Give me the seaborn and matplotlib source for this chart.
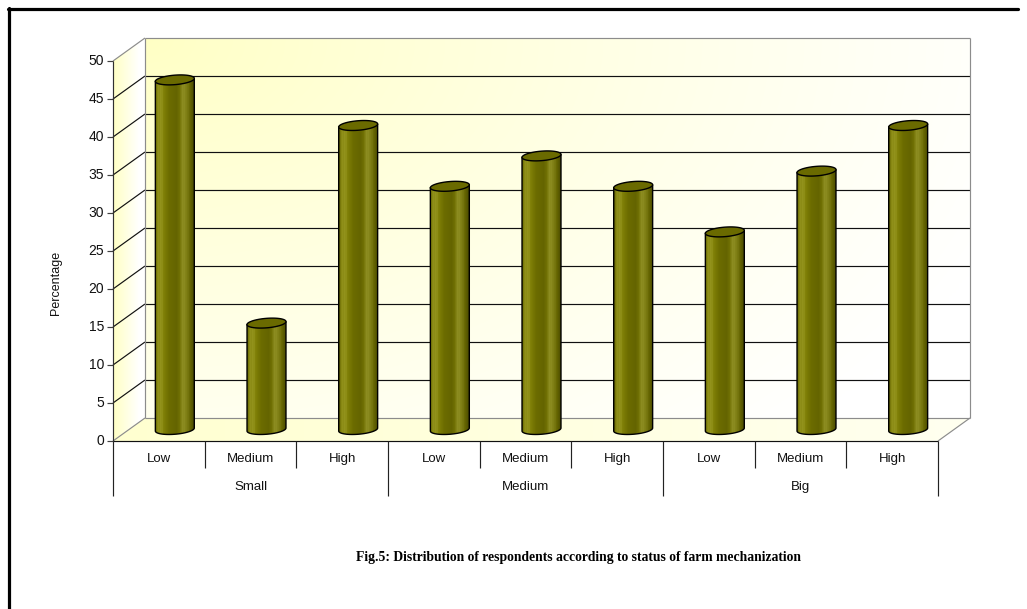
import numpy as np
import pandas as pd
import matplotlib
matplotlib.use("Agg")
import matplotlib.pyplot as plt
import seaborn as sns
from matplotlib.patches import Polygon, PathPatch
from matplotlib.path import Path
from matplotlib.lines import Line2D
from matplotlib.colors import to_rgb

# ---- data -------------------------------------------------------------
farm_sizes = ["Small", "Medium", "Big"]
mechanization = ["Low", "Medium", "High"]
small_pct = [46, 14, 40]
medium_pct = [32, 36, 32]
big_pct = [26, 34, 40]
y_ticks = [0, 5, 10, 15, 20, 25, 30, 35, 40, 45, 50]
y_label = "Percentage"
caption = "Fig.5: Distribution of respondents according to status of farm mechanization"

df = pd.DataFrame({
    "farm": np.repeat(farm_sizes, len(mechanization)),
    "level": mechanization * len(farm_sizes),
    "pct": small_pct + medium_pct + big_pct,
})
df["slot"] = np.arange(len(df))
n = len(df)

# ---- figure / pseudo-3D geometry ---------------------------------------
W, H = 1027, 609
sns.set_style("white")
plt.rcParams["font.family"] = ["Liberation Sans", "DejaVu Sans"]

fig = plt.figure(figsize=(W / 100, H / 100), dpi=100)
left_px, right_px, top_px, bottom_px = 113, 970, 38, 441
ax = fig.add_axes([left_px / W, 1 - bottom_px / H,
                   (right_px - left_px) / W, (bottom_px - top_px) / H])

ymax = 50
# half depth of the box (data units): bars sit in the middle plane
ddx = 16 / 91.7
ddy = 11.5 / 7.6
px_x = (right_px - left_px) / (n + 2 * ddx)   # pixels per category
px_y = (bottom_px - top_px) / (ymax + 2 * ddy)  # pixels per unit


def front(c, v):
    return (c - ddx, v - ddy)


def back(c, v):
    return (c + ddx, v + ddy)


c0, c1 = -0.5, n - 0.5
YELLOW = np.array(to_rgb("#ffffc4"))
WHITE = np.array([1.0, 1.0, 1.0])


def shaded(region, rgb, zorder):
    xs = [p[0] for p in region]
    ys = [p[1] for p in region]
    im = ax.imshow(rgb, extent=[min(xs), max(xs), min(ys), max(ys)],
                   origin="upper", aspect="auto", interpolation="bilinear",
                   zorder=zorder)
    clip = Polygon(region, closed=True, transform=ax.transData)
    im.set_clip_path(clip)
    return im


# back wall: yellow in the upper-left corner fading to white
gy, gx = np.mgrid[0:1:120j, 0:1:240j]
t = np.clip(np.sqrt((gx * 1.0) ** 2 + (gy * 0.75) ** 2) / 1.1, 0, 1) ** 0.85
back_rgb = YELLOW[None, None, :] * (1 - t[..., None]) + WHITE[None, None, :] * t[..., None]
shaded([back(c0, 0), back(c1, 0), back(c1, ymax), back(c0, ymax)], back_rgb, 0)

# side wall
sx = np.linspace(0, 1, 40)
side_t = np.clip(sx * 1.2, 0, 1)
side_rgb = YELLOW * (1 - side_t[:, None]) + WHITE * side_t[:, None]
side_rgb = np.repeat(side_rgb[None, :, :], 10, axis=0)
shaded([front(c0, 0), front(c0, ymax), back(c0, ymax), back(c0, 0)], side_rgb, 0)

# floor
fx = np.linspace(0, 1, 200)
floor_t = 0.2 + 0.55 * fx
floor_rgb = YELLOW * (1 - floor_t[:, None]) + WHITE * floor_t[:, None]
floor_rgb = np.repeat(floor_rgb[None, :, :], 10, axis=0)
shaded([front(c0, 0), front(c1, 0), back(c1, 0), back(c0, 0)], floor_rgb, 0)

GRID = "#111111"
EDGE = "#8c8c8c"
lw1 = 0.85


def seg(p, q, color, lw=lw1, z=1):
    ax.add_line(Line2D([p[0], q[0]], [p[1], q[1]], color=color, lw=lw,
                       zorder=z, clip_on=False, solid_capstyle="butt"))


for v in y_ticks:
    col = EDGE if v in (0, ymax) else GRID
    seg(back(c0, v), back(c1, v), col)          # back wall gridline
    seg(front(c0, v), back(c0, v), col)         # side wall gridline
    seg(front(c0 - 6 / px_x, v), front(c0, v), "#404040")  # tick mark
    tx, ty = front(c0 - 9 / px_x, v)
    ax.text(tx, ty, str(v), ha="right", va="center", fontsize=10,
            color="#111111", clip_on=False)

seg(back(c0, 0), back(c0, ymax), EDGE)
seg(back(c1, 0), back(c1, ymax), EDGE, z=2)
seg(front(c1, 0), back(c1, 0), EDGE, z=2)
seg(front(c0, 0), front(c0, ymax), "#303030", z=2)

# ---- cylinders ---------------------------------------------------------
OLIVE = "#6b6b00"
sns.barplot(data=df, x="slot", y="pct", width=0.425, color=OLIVE,
            saturation=1, ax=ax, zorder=4)
bars = list(ax.patches)

profile = [(0.00, "#5a5a00"), (0.05, "#858510"), (0.13, "#8f8f18"),
           (0.24, "#7e7e06"), (0.36, "#6c6c00"), (0.55, "#646400"),
           (0.64, "#717104"), (0.72, "#8a8a1e"), (0.81, "#7a7a10"),
           (0.90, "#666602"), (1.00, "#4a4a00")]
pos = np.array([p for p, _ in profile])
cols = np.array([to_rgb(c) for _, c in profile])
u = np.linspace(0, 1, 240)
body = np.stack([np.interp(u, pos, cols[:, k]) for k in range(3)], axis=1)
for s in (0.08, 0.15, 0.19, 0.67, 0.71, 0.76, 0.80, 0.85):
    body[np.abs(u - s) < 0.006] += 0.07
body = np.clip(body, 0, 1)
body_rgb = np.repeat(body[None, :, :], 4, axis=0)

eh = 9.5 / px_y      # ellipse height (data units)
tilt = 3.0 / px_y    # right rim sits a little higher than the left rim
for p in bars:
    x0, w, h = p.get_x(), p.get_width(), p.get_height()
    xc = x0 + w / 2
    p.set_edgecolor("none")
    p.set_facecolor("none")

    def rim(y, th):
        ct = np.cos(th)
        return np.column_stack([xc + w / 2 * ct,
                                y + eh / 2 * np.sin(th) + ct * tilt / 2])

    lower = rim(0.0, np.linspace(np.pi, 2 * np.pi, 60))
    verts = np.vstack([[x0, h - tilt / 2], lower, [x0 + w, h + tilt / 2],
                       [x0, h - tilt / 2]])
    path = Path(verts, closed=True)
    im = ax.imshow(body_rgb, extent=[x0, x0 + w, -eh / 2 - tilt, h + tilt],
                   aspect="auto", interpolation="bilinear", zorder=5)
    im.set_clip_path(PathPatch(path, transform=ax.transData))
    ax.add_patch(PathPatch(path, facecolor="none", edgecolor="black",
                           lw=1.0, zorder=6))
    top = rim(h, np.linspace(0, 2 * np.pi, 120))
    ax.add_patch(Polygon(top, closed=True, facecolor="#6a6a00",
                         edgecolor="black", lw=1.0, zorder=7))

# ---- category table under the floor ------------------------------------
ax.set_xlim(c0 - ddx, c1 + ddx)
ax.set_ylim(-ddy, ymax + ddy)
ax.axis("off")

v_row = -(468 - bottom_px) / px_y
v_grp = -(496 - bottom_px) / px_y
seg(front(c0, 0), front(c1, 0), "#111111", z=3)
for i in range(n + 1):
    c = c0 + i
    depth = v_grp if i % len(mechanization) == 0 else v_row
    seg(front(c, 0), front(c, depth), "#222222", z=3)

for i, row in df.iterrows():
    tx, ty = front(i, -(459 - bottom_px) / px_y)
    ax.text(tx, ty, row["level"], ha="center", va="center", fontsize=9.5,
            color="#111111", clip_on=False)
for g, name in enumerate(farm_sizes):
    tx, ty = front(g * 3 + 1, -(487 - bottom_px) / px_y)
    ax.text(tx, ty, name, ha="center", va="center", fontsize=9.5,
            color="#111111", clip_on=False)

fig.text(56 / W, 1 - 283 / H, y_label, rotation=90, ha="center", va="center",
         fontsize=9, color="#111111")
fig.text(578 / W, 1 - 558 / H, caption, ha="center", va="center",
         fontsize=9.8, fontweight="bold", color="black",
         family=["Liberation Serif", "DejaVu Serif"])

# page frame
fig.add_artist(Line2D([8 / W, 1018 / W], [1 - 8.5 / H, 1 - 8.5 / H],
                      color="black", lw=2.3, transform=fig.transFigure))
fig.add_artist(Line2D([9 / W, 9 / W], [1 - 7.5 / H, 0],
                      color="black", lw=2.3, transform=fig.transFigure))

fig.savefig("out.png", dpi=100)
